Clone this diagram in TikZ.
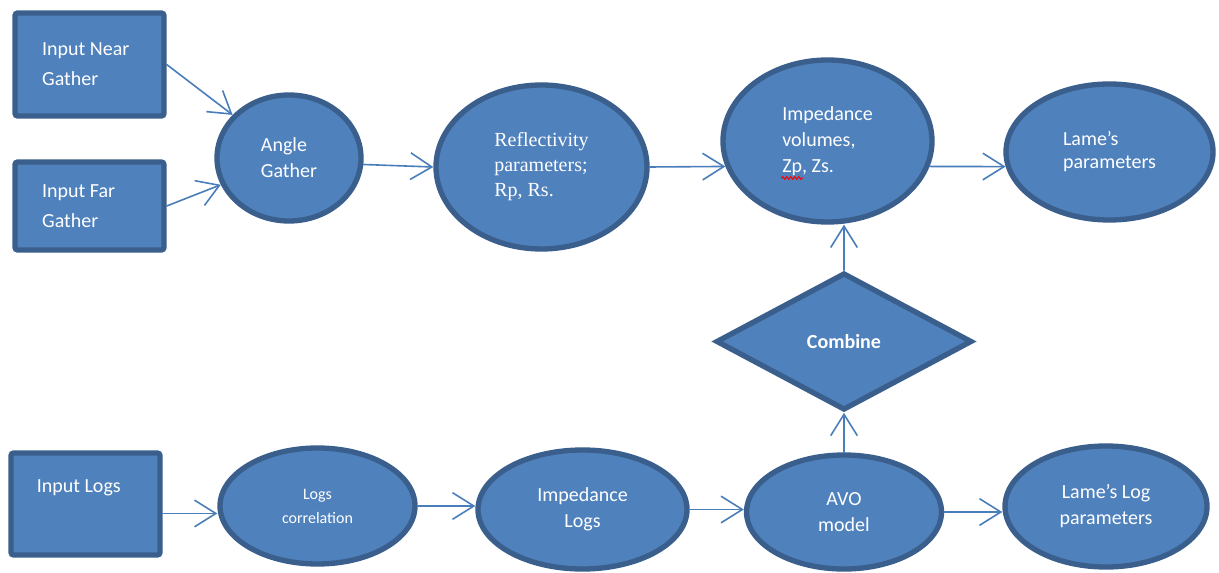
\documentclass[tikz,border=0pt]{standalone}
\usepackage{fontspec}
\setmainfont{Carlito}
\newfontfamily\reflfont{Liberation Serif}
\usepackage{tikz}
\usetikzlibrary{shapes.geometric,arrows.meta,calc,decorations.pathmorphing}

\begin{document}
\begin{tikzpicture}
		[x=0.75pt,y=-0.75pt,line cap=round,
		%Styles
		block/.style={draw=boxline,fill=boxfill,line width=4pt,rounded corners=2pt,text=white,inner sep=0pt,font=\fontsize{15}{22.5}\selectfont},
		blob/.style={ellipse,draw=boxline,fill=boxfill,line width=4pt,text=white,inner sep=0pt,font=\fontsize{15}{19.5}\selectfont},
		decision/.style={diamond,draw=boxline,fill=boxfill,line width=4pt,text=white,inner sep=0pt,font=\bfseries\fontsize{15}{18}\selectfont},
		flow/.style={draw=arrowcolor,line width=1.2pt,-{Straight Barb[length=16pt,width=20pt]}}
		]
		
		%Colors
		\definecolor{boxfill}{HTML}{4F81BD}	%shape fill
		\definecolor{boxline}{HTML}{3A5F8C}	%shape border
		\definecolor{arrowcolor}{HTML}{4A7EBB}	%connectors
		
		\useasboundingbox (0,0) rectangle (1219,573);
		
		%Inputs
		\node[block,minimum width=111.75pt,minimum height=77.25pt,align=flush left,text width=71pt] (near) at (89.5,64.5) {Input Near\\Gather};
		\node[block,minimum width=111.75pt,minimum height=66pt,align=flush left,text width=71pt] (far) at (89.5,206) {Input Far\\Gather};
		\node[block,minimum width=111.75pt,minimum height=76.5pt,text depth=27pt,align=flush left,text width=73pt] (logs) at (85.5,504) {Input Logs};
		
		%Seismic branch
		\node[blob,minimum width=108pt,minimum height=94.5pt,align=left] (angle) at (289,158) {Angle\\Gather};
		\node[blob,minimum width=158.25pt,minimum height=123pt,align=left,font=\reflfont\fontsize{15}{18.75}\selectfont] (refl) at (541.5,167) {Reflectivity\\parameters;\\Rp, Rs.};
		\node[blob,minimum width=156.75pt,minimum height=121.5pt,align=left] (imp) at (827.5,141) {Impedance\\volumes,\\Zp, Zs.};
		\node[blob,minimum width=155.25pt,minimum height=102pt,align=left,font=\fontsize{15}{17.25}\selectfont] (lame) at (1109.5,152) {Lame’s\\parameters};
		
		\node[decision,minimum width=192pt,minimum height=103pt] (combine) at (844,341.5) {Combine};
		
		%Log branch
		\node[blob,minimum width=146.25pt,minimum height=87pt,align=center,font=\fontsize{12}{18}\selectfont] (corr) at (317.5,506) {Logs\\correlation};
		\node[blob,minimum width=156.75pt,minimum height=89.25pt,align=center] (implogs) at (582.5,509.5) {Impedance\\Logs};
		\node[blob,minimum width=146.25pt,minimum height=85.5pt,align=center] (avo) at (844,512) {AVO\\model};
		\node[blob,minimum width=151.5pt,minimum height=90.75pt,align=center] (lamelog) at (1106,506.5) {Lame’s Log\\parameters};
		
		%spell check mark
		\draw[red,line width=0.8pt,decorate,decoration={snake,amplitude=1pt,segment length=3pt}] ($(imp.center)+(-46,37)$) -- ++(21,0);
		
		%Connectors
		\draw[flow] (near.east) -- (angle);
		\draw[flow] (far.east) -- (angle);
		\draw[flow] (angle.-5) -- (refl.west);
		\draw[flow] (refl.east) -- (imp.194);
		\draw[flow] (imp.-14) -- (lame.188);
		\draw[flow] (logs.-7) -- (logs.-7 -| corr.west);
		\draw[flow] (corr.east) -- (corr.east -| implogs.west);
		\draw[flow] (implogs.east) -- (implogs.east -| avo.west);
		\draw[flow] (avo.east) -- (avo.east -| lamelog.west);
		\draw[flow] (avo.north) -- (combine.south);
		\draw[flow] (combine.north) -- (combine.north |- imp.south);
	\end{tikzpicture}
\end{document}
